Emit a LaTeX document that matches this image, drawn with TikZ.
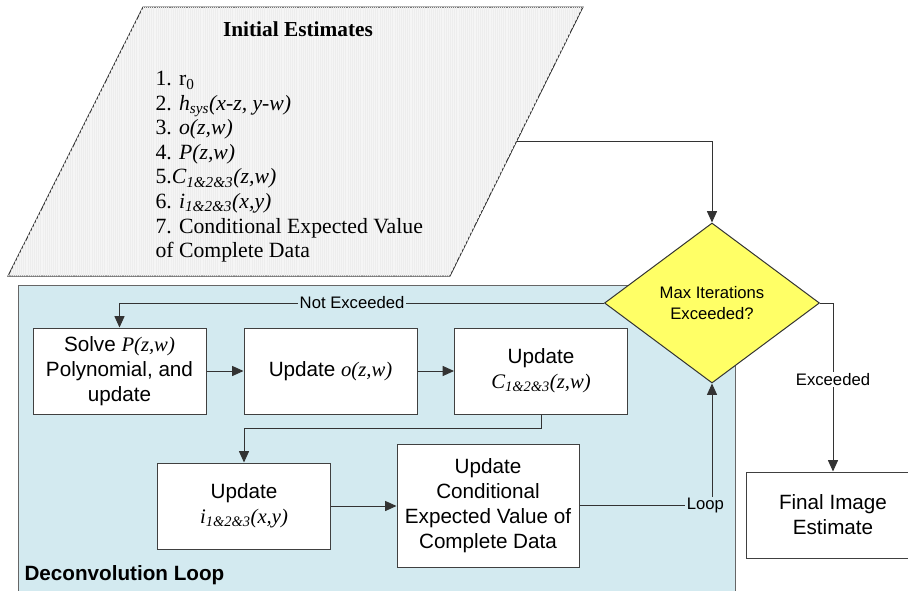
\documentclass[tikz,border=0pt]{standalone}
\usepackage{fontspec}
\setmainfont{Liberation Sans}
\newfontfamily\rmtext{Liberation Serif}
\usetikzlibrary{arrows.meta,shapes.geometric,patterns.meta}

\definecolor{loopblue}{RGB}{211,234,240}
\definecolor{decyellow}{RGB}{255,255,102}

\tikzset{every picture/.style={line width=0.75pt}}
\tikzset{
  stepbox/.style={draw=black!75, fill=white, align=center, minimum width=129.75pt, minimum height=64.5pt, inner sep=2pt, font=\fontsize{15.5}{18.75}\selectfont},
  flow/.style={draw=black!80, -{Triangle[width=7.5pt,length=8.5pt]}},
  flowlabel/.style={fill=loopblue, inner sep=1pt, font=\fontsize{12.5}{15}\selectfont},
}

\begin{document}
\begin{tikzpicture}[x=0.75pt,y=0.75pt,yscale=-1,xscale=1]
\useasboundingbox (0,0) rectangle (908,590);

%Shape: Rectangle [deconvolution loop area]
\draw [draw=black!60, fill=loopblue] (18,285) rectangle (735,600) ;

%Shape: Parallelogram [initial estimates]
\draw [draw=black!80, fill=black!4] (143,7) -- (583,7) -- (450,276) -- (8,276) -- cycle ;
\fill [pattern={Lines[angle=90,distance=1.6pt,line width=0.2pt]}, pattern color=black!7] (143,7) -- (583,7) -- (450,276) -- (8,276) -- cycle ;
\coordinate (estout) at (517,141) ;

% Text Node
\node (esttitle) at (298,29) [font=\rmtext\bfseries\fontsize{16}{18}\selectfont] {Initial Estimates};
% Text Node
\node (estlist) at (155,71) [anchor=north west, inner sep=0pt, align=left, font=\rmtext\fontsize{16.3}{18.4}\selectfont] {1. r\textsubscript{0}\\
2. {\itshape h\textsubscript{sys}(x-z, y-w)}\\
3. {\itshape o(z,w)}\\
4. {\itshape P(z,w)}\\
5.{\itshape C\textsubscript{1\&2\&3}(z,w)}\\
6. {\itshape i\textsubscript{1\&2\&3}(x,y)}\\
7. Conditional Expected Value\\
of Complete Data};

%Shape: Diamond
\node (dec) at (712,303) [diamond, draw=black!80, fill=decyellow, minimum width=161.25pt, minimum height=120pt, inner sep=0pt, align=center, font=\fontsize{12.5}{15.75}\selectfont] {Max Iterations\\Exceeded?};

%Shape: Rectangle [steps]
\node (solve) at (119.5,371) [stepbox] {Solve {\rmtext\itshape P(z,w)}\\Polynomial, and\\update};
\node (upo) at (330.5,371) [stepbox] {Update {\rmtext\itshape o(z,w)}};
\node (upc) at (541,371) [stepbox] {Update\\{\rmtext\itshape C\textsubscript{1\&2\&3}(z,w)}};
\node (upi) at (244,506) [stepbox] {Update\\{\rmtext\itshape i\textsubscript{1\&2\&3}(x,y)}};
\node (upcond) at (488,505.5) [stepbox, minimum width=136.5pt, minimum height=92.25pt] {Update\\Conditional\\Expected Value of\\Complete Data};
\node (final) at (833,515) [stepbox] {Final Image\\Estimate};

% Text Node
\node (looptitle) at (24,575) [anchor=west, inner sep=0pt, font=\bfseries\fontsize{15.5}{18}\selectfont] {Deconvolution Loop};

%Connectors
\draw [flow] (estout) -| (dec.north) ;
\draw [flow] (dec.west) -| node [flowlabel, pos=0.26] {Not Exceeded} (solve.north) ;
\draw [flow] (solve) -- (upo) ;
\draw [flow] (upo) -- (upc) ;
\draw [flow] (upc.south) -- ++(0,14) -| (upi.north) ;
\draw [flow] (upi.east) -- (upi.east -| upcond.west) ;
\draw [flow] (upcond.east) -| node [flowlabel, pos=0.5, xshift=-5pt] {Loop} (dec.south) ;
\draw [flow] (dec.east) -| node [flowlabel, fill=white, pos=0.728] {Exceeded} (final.north) ;

\end{tikzpicture}
\end{document}
